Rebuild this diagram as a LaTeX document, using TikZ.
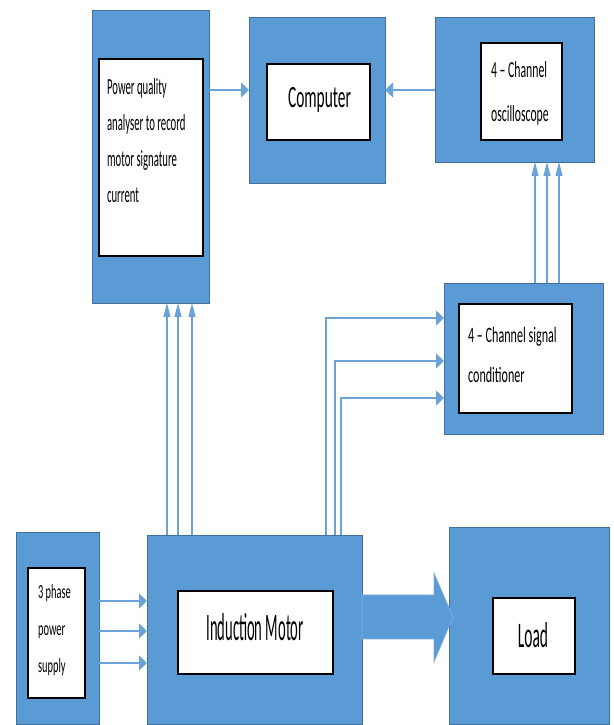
\documentclass[tikz,border=0pt]{standalone}
\usepackage{fontspec}
\setmainfont{Carlito}
\usetikzlibrary{arrows.meta}
\definecolor{boxblue}{HTML}{5B9BD5}
\definecolor{boxedge}{HTML}{41719C}
\definecolor{linkblue}{HTML}{6AA3D8}

\begin{document}
\begin{tikzpicture}[x=1pt,y=1pt,
  outerbox/.style={rectangle,fill=boxblue,draw=boxedge,line width=0.8pt,inner sep=0pt,outer sep=0pt},
  innerbox/.style={rectangle,fill=white,draw=black,line width=1.1pt,inner sep=0pt,outer sep=0pt},
  txt/.style={inner sep=0pt,align=left,anchor=west},
  link/.style={draw=linkblue,line width=1.3pt},
  hlink/.style={link,-{Triangle[length=8pt,width=15pt]}},
  vlink/.style={link,-{Triangle[length=14pt,width=7pt]}}]
\useasboundingbox (0,0) rectangle (613,725);
\node[outerbox,minimum width=117pt,minimum height=293pt] (pqa) at (150.5,568.5) {};
\node[innerbox,minimum width=104pt,minimum height=197pt] (pqain) at (151,567.5) {};
\node[outerbox,minimum width=136pt,minimum height=166pt] (comp) at (317,625) {};
\node[innerbox,minimum width=103pt,minimum height=76pt] (compin) at (318.5,623) {};
\node[outerbox,minimum width=159pt,minimum height=145pt] (osc) at (514.5,635.5) {};
\node[innerbox,minimum width=81pt,minimum height=97pt] (oscin) at (521.5,633.5) {};
\node[outerbox,minimum width=159pt,minimum height=151pt] (sig) at (523.5,366.5) {};
\node[innerbox,minimum width=113pt,minimum height=109pt] (sigin) at (515.5,366.5) {};
\node[outerbox,minimum width=83pt,minimum height=192pt] (sup) at (57.5,97) {};
\node[innerbox,minimum width=57pt,minimum height=130pt] (supin) at (56.5,92) {};
\node[outerbox,minimum width=215pt,minimum height=189pt] (mot) at (254.5,95.5) {};
\node[innerbox,minimum width=155pt,minimum height=83pt] (motin) at (255.5,92.5) {};
\node[outerbox,minimum width=160pt,minimum height=197pt] (load) at (529,99.5) {};
\node[innerbox,minimum width=82pt,minimum height=76pt] (loadin) at (534,89) {};

\node[txt,xscale=0.465,font=\fontsize{23}{36}\selectfont] (pqatext) at (107,584)
  {Power quality\\analyser to record\\motor signature\\current};
\node[inner sep=0pt,xscale=0.497,font=\fontsize{31}{36}\selectfont] (comptext) at (319.5,625) {Computer};
\node[txt,xscale=0.51,font=\fontsize{23}{44}\selectfont] (osctext) at (491,632) {4 -- Channel\\oscilloscope};
\node[txt,xscale=0.55,font=\fontsize{22}{40}\selectfont] (sigtext) at (468,370) {4 -- Channel signal\\conditioner};
\node[txt,xscale=0.52,font=\fontsize{20}{37}\selectfont] (suptext) at (38,95) {3 phase\\power\\supply};
\node[inner sep=0pt,xscale=0.374,font=\fontsize{39}{40}\selectfont] (mottext) at (255,98) {Induction Motor};
\node[inner sep=0pt,xscale=0.43,font=\fontsize{36}{40}\selectfont] (loadtext) at (533,90) {Load};

\draw[hlink] ([yshift=10pt]comp.west -| pqa.east) -- ([yshift=10pt]comp.west);
\draw[hlink] ([yshift=10pt]comp.east -| osc.west) -- ([yshift=10pt]comp.east);
\foreach \dy in {28.5,-1.5,-33.5}
  \draw[hlink] ([yshift=\dy pt]mot.west -| sup.east) -- ([yshift=\dy pt]mot.west);
\foreach \dx in {16.5,27.5,41.5}
  \draw[vlink] ([xshift=\dx pt]pqa.south |- mot.north) -- ([xshift=\dx pt]pqa.south);
\foreach \dx/\dy in {71.5/40.5,80.5/-2.5,86.5/-39.5}
  \draw[hlink] ([xshift=\dx pt]mot.north) |- ([yshift=\dy pt]sig.west);
\foreach \dx in {20.5,32.5,44.5}
  \draw[vlink] ([xshift=\dx pt]osc.south |- sig.north) -- ([xshift=\dx pt]osc.south);
\filldraw[fill=boxblue,draw=boxblue!80!white,line width=0.6pt] ([yshift=34.5pt]mot.east) -- ++(72,0) -- ++(0,22)
  -- ([xshift=4pt,yshift=8.5pt]load.west) -- ++(-19,-45) -- ++(0,23) -- ([yshift=-9.5pt]mot.east) -- cycle;
\end{tikzpicture}
\end{document}
